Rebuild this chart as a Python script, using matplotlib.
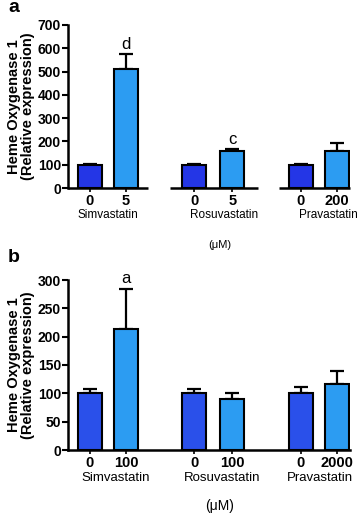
import matplotlib
matplotlib.use("Agg")
import matplotlib.pyplot as plt

plt.rcParams['font.family'] = ['Liberation Sans', 'DejaVu Sans']

groups = ['Simvastatin', 'Rosuvastatin', 'Pravastatin']

# panel a
dose_a = ['0', '5', '0', '5', '0', '200']
mean_a = [100, 510, 100, 157, 100, 160]
err_a = [5, 65, 2, 10, 3, 33]
sig_a = ['', 'd', '', 'c', '', '']

# panel b
dose_b = ['0', '100', '0', '100', '0', '2000']
mean_b = [100, 213, 100, 90, 100, 116]
err_b = [8, 72, 8, 10, 12, 23]
sig_b = ['', 'a', '', '', '', '']

pos = [0, 1, 2.9, 3.95, 5.85, 6.85]
light = '#2c9cf2'


def panel(ax, mean, err, dose, sig, ymax, step, dark_col, gx, gy, gsize):
    cols = [dark_col, light] * 3
    ax.bar(pos, mean, width=0.67, color=cols, edgecolor='black', linewidth=1.5, zorder=2)
    ax.errorbar(pos, mean, yerr=[[0] * 6, err], fmt='none', ecolor='black',
                elinewidth=1.6, capsize=5, capthick=1.6, zorder=1)
    for x, m, e, s in zip(pos, mean, err, sig):
        if s:
            ax.text(x, m + e + ymax * 0.015, s, ha='center', va='bottom', fontsize=12)
    ax.set_xlim(-0.61, 7.22)
    ax.set_ylim(0, ymax)
    ax.set_yticks(range(0, ymax + 1, step))
    ax.set_xticks(pos)
    ax.set_xticklabels(dose, fontweight='bold', fontsize=10.5)
    for t in ax.get_yticklabels():
        t.set_fontweight('bold')
        t.set_fontsize(10)
    ax.tick_params(axis='y', length=4, width=1.5, pad=1)
    ax.tick_params(axis='x', length=3, width=1.2, pad=1)
    for s in ['top', 'right']:
        ax.spines[s].set_visible(False)
    ax.spines['left'].set_linewidth(1.8)
    ax.spines['bottom'].set_linewidth(1.8)
    ax.set_ylabel('Heme Oxygenase 1\n(Relative expression)', fontweight='bold',
                  fontsize=10.5, labelpad=2, linespacing=1.0)
    for g, x in zip(groups, gx):
        ax.text(x, gy, g, transform=ax.get_xaxis_transform(), ha='center',
                va='center', fontsize=gsize)


fig = plt.figure(figsize=(3.58, 5.19), dpi=100)
ax1 = fig.add_axes([68 / 358, 1 - 188 / 519, 282 / 358, 163 / 519])
panel(ax1, mean_a, err_a, dose_a, sig_a, 700, 100, '#2436e6',
      [0.5, 3.72, 6.61], -27 / 163, 8.5)
# broken baseline in panel a
ax1.spines['bottom'].set_visible(False)
for x0, x1 in [(-0.61, 1.61), (2.22, 4.67), (5.25, 7.22)]:
    ax1.plot([x0, x1], [0, 0], color='black', lw=1.8,
             transform=ax1.get_xaxis_transform(), clip_on=False, solid_capstyle='butt')
fig.text(220 / 358, 1 - 245 / 519, '(\u03bcM)', ha='center', va='center', fontsize=8)
fig.text(0.022, 1 - 8 / 519, 'a', fontweight='bold', fontsize=14, va='center')

ax2 = fig.add_axes([68 / 358, 1 - 450 / 519, 282 / 358, 170 / 519])
panel(ax2, mean_b, err_b, dose_b, sig_b, 300, 50, '#2a50ea',
      [0.7, 3.67, 6.39], -28 / 170, 9.5)
fig.text(220 / 358, 1 - 506 / 519, '(\u03bcM)', ha='center', va='center', fontsize=10)
fig.text(0.022, 1 - 258 / 519, 'b', fontweight='bold', fontsize=14, va='center')

fig.savefig('out.png', dpi=100)
